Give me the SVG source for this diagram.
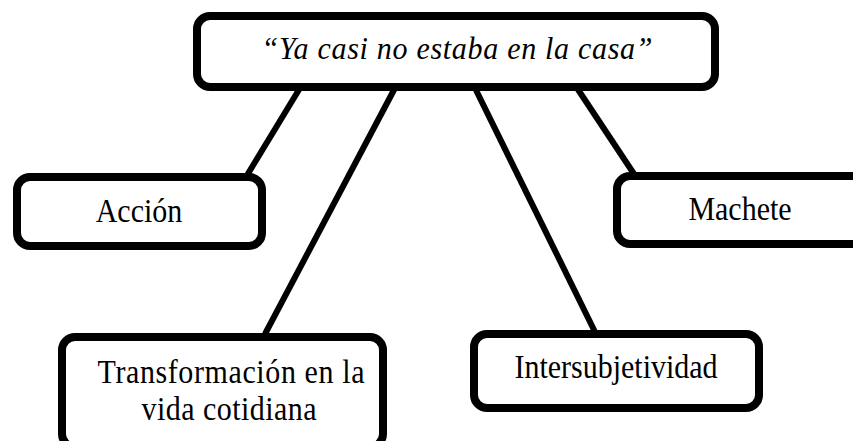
<svg xmlns="http://www.w3.org/2000/svg" width="853" height="441" viewBox="0 0 853 441">
<style>
.box{fill:#fff;stroke:#000;stroke-width:8}
.lbl{font-size:30px;fill:#000;text-anchor:middle}
.conn line{stroke:#000;stroke-width:6}
</style>
<rect width="853" height="441" fill="#fff"/>
<g id="connectors" class="conn">
<line x1="300" y1="88" x2="246" y2="177"/>
<line x1="395" y1="88" x2="265" y2="334"/>
<line x1="475" y1="88" x2="596" y2="334"/>
<line x1="577" y1="88" x2="636" y2="177"/>
</g>
<g font-family="'Liberation Serif', 'DejaVu Serif', serif">
<g id="root">
<rect class="box" x="197" y="16" width="518" height="71" rx="13"/>
<text class="lbl" transform="translate(457 59) scale(1 1.08)" font-size="31.4" font-style="italic" textLength="391" lengthAdjust="spacing">“Ya casi no estaba en la casa”</text>
</g>
<g id="accion">
<rect class="box" x="17" y="177" width="245" height="69" rx="13"/>
<text class="lbl" transform="translate(139 222) scale(1 1.1)">Acción</text>
</g>
<g id="machete">
<rect class="box" x="617" y="176" width="260" height="68" rx="13"/>
<text class="lbl" transform="translate(740 220) scale(1 1.1)">Machete</text>
</g>
<g id="transformacion">
<rect class="box" x="62" y="337" width="321" height="110" rx="13"/>
<text class="lbl" transform="translate(231 383) scale(1 1.1)" textLength="267" lengthAdjust="spacing">Transformación en la</text>
<text class="lbl" transform="translate(229 420) scale(1 1.1)" textLength="175" lengthAdjust="spacing">vida cotidiana</text>
</g>
<g id="intersubjetividad">
<rect class="box" x="474" y="334" width="285" height="74" rx="13"/>
<text class="lbl" transform="translate(616 378) scale(1 1.1)">Intersubjetividad</text>
</g>
</g>
</svg>
